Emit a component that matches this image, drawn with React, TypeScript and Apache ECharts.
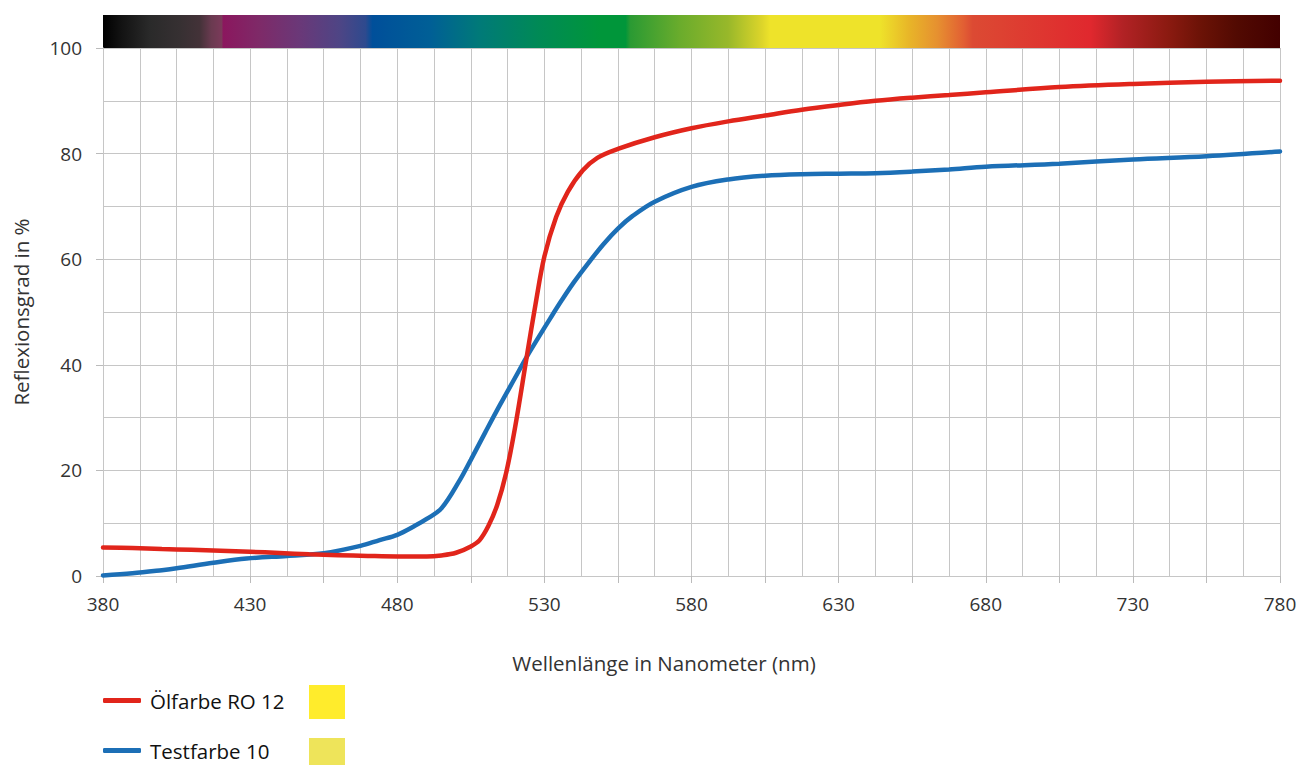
import React, { useEffect, useRef } from "react";
import * as echarts from "echarts";

const X0 = 380;
const X1 = 780;

const xTickLabels = ["380", "430", "480", "530", "580", "630", "680", "730", "780"];
const yTickLabels = ["0", "20", "40", "60", "80", "100"];

const seriesNames = ["Ölfarbe RO 12", "Testfarbe 10"];
const seriesColors = ["#E1251B", "#1C6FB6"];
const swatchColors = ["#FFEC2C", "#EEE45A"];

const redNm = [380, 390, 400, 410, 420, 430, 440, 450, 460, 470, 480, 490, 495, 500, 505, 508, 511, 514, 517, 520, 524, 527, 530, 534, 538, 543, 548, 555, 567.5, 580, 592.5, 605, 617.5, 630, 642.5, 655, 667.5, 680, 705, 730, 755, 780];
const redVal = [5.4, 5.3, 5.1, 4.95, 4.8, 4.6, 4.35, 4.1, 3.95, 3.8, 3.7, 3.7, 3.9, 4.4, 5.6, 6.8, 9.5, 13.5, 19.5, 28, 41.5, 51.5, 60.5, 68, 72.8, 76.8, 79.2, 80.9, 83.1, 84.8, 86.1, 87.2, 88.3, 89.2, 90.0, 90.6, 91.1, 91.6, 92.6, 93.2, 93.6, 93.8];

const blueNm = [380, 390, 400, 405, 417.5, 428.8, 442.5, 455, 467.5, 474, 480, 486, 490, 495, 501.3, 505, 510, 515, 520, 524, 528, 532, 536, 540, 545, 550, 555, 560, 567.5, 580, 592.5, 605, 617.5, 630, 642.5, 655, 667.5, 680, 705, 730, 755, 780];
const blueVal = [0.1, 0.5, 1.1, 1.45, 2.5, 3.3, 3.8, 4.3, 5.7, 6.8, 7.8, 9.5, 10.8, 12.8, 18.2, 22, 27.3, 32.5, 37.5, 41.5, 45.2, 48.8, 52.3, 55.6, 59.3, 62.8, 65.8, 68.2, 70.9, 73.7, 75.1, 75.8, 76.1, 76.2, 76.3, 76.6, 77.0, 77.5, 78.1, 78.9, 79.5, 80.4];

const spectrumStops: [number, string][] = [
  [0, "#000000"],
  [0.014, "#111111"],
  [0.04, "#2a2a2a"],
  [0.065, "#363032"],
  [0.082, "#433238"],
  [0.092, "#6a3a50"],
  [0.101, "#7b3a5a"],
  [0.102, "#8b175e"],
  [0.133, "#7e2a68"],
  [0.167, "#6a3878"],
  [0.201, "#4e4585"],
  [0.223, "#2e4a8e"],
  [0.229, "#004f9a"],
  [0.278, "#005f96"],
  [0.32, "#007a78"],
  [0.371, "#008a55"],
  [0.422, "#00963a"],
  [0.444, "#00963a"],
  [0.448, "#2a9a33"],
  [0.49, "#6aac2c"],
  [0.531, "#98b82a"],
  [0.56, "#ddd52a"],
  [0.567, "#eee32a"],
  [0.66, "#eee32a"],
  [0.685, "#e8b528"],
  [0.709, "#e69030"],
  [0.731, "#e25f33"],
  [0.739, "#dc4a33"],
  [0.839, "#e0282e"],
  [0.866, "#b22225"],
  [0.906, "#8a1a10"],
  [0.934, "#6a1206"],
  [0.963, "#520a02"],
  [1, "#430000"],
];

const FONT = "'Open Sans', 'Noto Sans', sans-serif";

function legendFor(i: number, top: number) {
  return {
    orient: "horizontal",
    left: 103,
    top,
    padding: 0,
    icon: "roundRect",
    itemWidth: 38,
    itemHeight: 5,
    textStyle: { fontSize: 20.5, color: "#111111", fontFamily: FONT, padding: [0, 0, 0, 4] },
    data: [seriesNames[i]],
    selectedMode: false,
  };
}

export default function App() {
  const ref = useRef<HTMLDivElement>(null);
  useEffect(() => {
    if (!ref.current) return;
    const chart = echarts.init(ref.current, null, { renderer: "svg" });
    const gridLine = { lineStyle: { color: "#c6c6c6", width: 1 } };
    const option = {
      animation: false,
      backgroundColor: "#ffffff",
      textStyle: { fontFamily: FONT },
      grid: { left: 103, right: 30, top: 48, bottom: 189, containLabel: false },
      xAxis: {
        type: "value",
        min: 0,
        max: X1 - X0,
        interval: 25,
        name: "Wellenlänge in Nanometer (nm)",
        nameLocation: "middle",
        nameGap: 76,
        nameTextStyle: { fontSize: 20.5, color: "#333", fontFamily: FONT, padding: [0, 55, 0, 0] },
        axisLine: { show: true, lineStyle: { color: "#c6c6c6", width: 1 } },
        axisTick: { show: true, length: 7, lineStyle: { color: "#bbbbbb", width: 1 } },
        axisLabel: {
          fontSize: 19,
          color: "#333",
          margin: 18,
          fontFamily: FONT,
          showMinLabel: true,
          showMaxLabel: true,
          formatter: (v: number) => {
            const s = String(Math.round(v + X0));
            return xTickLabels.includes(s) ? s : "";
          },
        },
        splitLine: { show: true, ...gridLine },
        minorTick: { show: false, splitNumber: 2 },
        minorSplitLine: { show: true, ...gridLine },
      },
      yAxis: {
        type: "value",
        min: 0,
        max: 100,
        interval: 20,
        name: "Reflexionsgrad in %",
        nameLocation: "middle",
        nameGap: 72,
        nameTextStyle: { fontSize: 20.5, color: "#333", fontFamily: FONT },
        axisLine: { show: true, lineStyle: { color: "#c6c6c6", width: 1 } },
        axisTick: { show: true, length: 7, lineStyle: { color: "#bbbbbb", width: 1 } },
        axisLabel: {
          fontSize: 19,
          color: "#333",
          margin: 21,
          fontFamily: FONT,
          formatter: (v: number) => (yTickLabels.includes(String(v)) ? String(v) : ""),
        },
        splitLine: { show: true, ...gridLine },
        minorTick: { show: false, splitNumber: 2 },
        minorSplitLine: { show: true, ...gridLine },
      },
      legend: [legendFor(0, 690), legendFor(1, 740)],
      graphic: [
        {
          type: "rect",
          shape: { x: 103, y: 15, width: 1177, height: 33 },
          style: {
            fill: new echarts.graphic.LinearGradient(
              0,
              0,
              1,
              0,
              spectrumStops.map(([offset, color]) => ({ offset, color }))
            ),
          },
          silent: true,
        },
        {
          type: "rect",
          shape: { x: 309, y: 685, width: 36, height: 34 },
          style: { fill: swatchColors[0] },
          silent: true,
        },
        {
          type: "rect",
          shape: { x: 309, y: 738, width: 36, height: 34 },
          style: { fill: swatchColors[1] },
          silent: true,
        },
      ],
      series: [
        {
          name: seriesNames[0],
          type: "line",
          data: redNm.map((nm, i) => [nm - X0, redVal[i]]),
          smooth: 0.35,
          showSymbol: false,
          symbol: "none",
          lineStyle: { color: seriesColors[0], width: 4.5, cap: "round" },
          itemStyle: { color: seriesColors[0] },
          z: 3,
        },
        {
          name: seriesNames[1],
          type: "line",
          data: blueNm.map((nm, i) => [nm - X0, blueVal[i]]),
          smooth: 0.35,
          showSymbol: false,
          symbol: "none",
          lineStyle: { color: seriesColors[1], width: 4.5, cap: "round" },
          itemStyle: { color: seriesColors[1] },
          z: 2,
        },
      ],
    };
    chart.setOption(option as any);
    return () => chart.dispose();
  }, []);
  return (
    <div
      ref={ref}
      style={{ position: "fixed", left: 0, top: 0, width: 1310, height: 765, background: "#fff" }}
    />
  );
}
